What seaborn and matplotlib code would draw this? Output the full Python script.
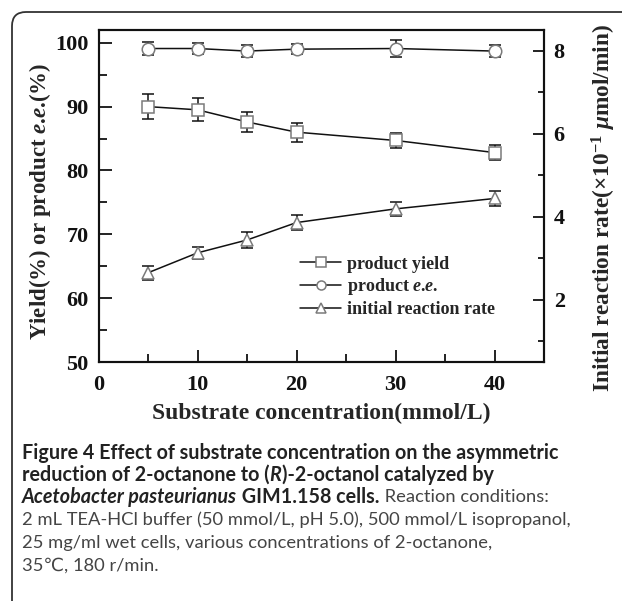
import numpy as np
import pandas as pd
import seaborn as sns
import matplotlib.pyplot as plt
from matplotlib.patches import PathPatch
from matplotlib.path import Path
from matplotlib.lines import Line2D
from matplotlib.ticker import MultipleLocator
from matplotlib.transforms import IdentityTransform

# data
conc = [5, 10, 15, 20, 30, 40]
yield_pct = [90.0, 89.5, 87.6, 86.0, 84.7, 82.8]
yield_err = [2.0, 1.8, 1.6, 1.5, 1.2, 1.2]
ee_pct = [99.1, 99.1, 98.7, 99.0, 99.1, 98.7]
ee_err = [1.0, 0.8, 1.0, 0.8, 1.3, 1.0]
rate = [2.65, 3.13, 3.44, 3.86, 4.19, 4.44]
rate_err = [0.17, 0.14, 0.19, 0.18, 0.17, 0.19]
series_labels = ["product yield", "product $e$.$e$.", "initial reaction rate"]

sns.set_theme(style="ticks")
plt.rcParams["font.family"] = ["Liberation Serif", "DejaVu Serif"]
plt.rcParams["font.weight"] = "bold"
plt.rcParams["mathtext.fontset"] = "custom"
plt.rcParams["mathtext.it"] = "Liberation Serif:italic:bold"
plt.rcParams["mathtext.rm"] = "Liberation Serif:bold"
plt.rcParams["mathtext.bf"] = "Liberation Serif:bold"

W, H = 622, 601
fig = plt.figure(figsize=(W / 100, H / 100), dpi=100)
fig.patch.set_facecolor("white")

# rounded frame (left and top edges visible), pixel coords from bottom-left
r = 14
verts = [(12, -20), (12, H - 12 - r), (12, H - 12), (12 + r, H - 12), (W + 20, H - 12)]
codes = [Path.MOVETO, Path.LINETO, Path.CURVE3, Path.CURVE3, Path.LINETO]
fig.add_artist(PathPatch(Path(verts, codes), fill=False, ec="#333333", lw=1.3,
                         transform=IdentityTransform()))

ax = fig.add_axes([98.5 / W, (H - 362) / H, (544 - 98.5) / W, (362 - 30) / H])
ax2 = ax.twinx()

line_kw = dict(color="#111111", lw=1.1, markersize=8, markerfacecolor="white",
               markeredgecolor="#7a7a7a", markeredgewidth=1.1)
err_kw = dict(fmt="none", ecolor="#111111", elinewidth=1.1, capsize=4.5, capthick=1.1)

df = pd.DataFrame({"conc": conc, "yield": yield_pct, "ee": ee_pct, "rate": rate})

ax.errorbar(conc, yield_pct, yerr=yield_err, **err_kw)
ax.errorbar(conc, ee_pct, yerr=ee_err, **err_kw)
ax2.errorbar(conc, rate, yerr=rate_err, **err_kw)
sns.lineplot(data=df, x="conc", y="yield", marker="s", ax=ax, **line_kw)
sns.lineplot(data=df, x="conc", y="ee", marker="o", ax=ax, **dict(line_kw, markersize=9))
sns.lineplot(data=df, x="conc", y="rate", marker="^", ax=ax2, **dict(line_kw, markersize=9))

ax.set_xlim(0, 45)
ax.set_ylim(50, 102)
ax2.set_ylim(0.5, 8.5)
ax.xaxis.set_major_locator(MultipleLocator(10))
ax.xaxis.set_minor_locator(MultipleLocator(5))
ax.yaxis.set_major_locator(MultipleLocator(10))
ax.yaxis.set_minor_locator(MultipleLocator(5))
ax2.yaxis.set_major_locator(MultipleLocator(2))
ax2.yaxis.set_minor_locator(MultipleLocator(1))

for a in (ax, ax2):
    for s in a.spines.values():
        s.set_linewidth(1.5)
        s.set_color("#111111")
ax.tick_params(axis="both", which="both", direction="in", top=False, right=False,
               labelsize=16, width=1.3, colors="#111111")
ax.tick_params(which="major", length=9)
ax.tick_params(which="minor", length=6)
ax.tick_params(axis="y", pad=7)
ax.tick_params(axis="x", pad=9)
ax2.tick_params(axis="y", which="both", direction="in", labelsize=16, width=1.3,
                colors="#111111", pad=7)
ax2.tick_params(which="major", length=8)
ax2.tick_params(which="minor", length=4)

ax.set_xlabel("Substrate concentration(mmol/L)", fontsize=17, fontweight="bold", labelpad=6)
ax.set_ylabel("Yield(%) or product $e$.$e$.(%)", fontsize=16.5, fontweight="bold")
ax2.set_ylabel("Initial reaction rate(×10$^{-1}$ $\\mu$mol/min)", fontsize=16.8,
               fontweight="bold")
ax.yaxis.set_label_coords(-0.102, 0.485)
ax2.yaxis.set_label_coords(1.103, 0.464)

markers = ["s", "o", "^"]
handles = [Line2D([], [], marker=m, **dict(line_kw, markersize=6.5)) for m in markers]
ax.legend(handles, series_labels, loc="upper left", bbox_to_anchor=(0.452, 0.32),
          frameon=False, handlelength=2.3, handletextpad=0.3,
          labelspacing=0.2, borderpad=0, borderaxespad=0,
          prop={"family": "Liberation Serif", "weight": "bold", "size": 13})

# caption
fig.canvas.draw()
renderer = fig.canvas.get_renderer()
cap_fam = ["Lato", "DejaVu Sans"]
B = dict(family=cap_fam, weight="bold", color="#222222", fontsize=14.2)
BI = dict(family=cap_fam, weight="bold", style="italic", color="#222222", fontsize=14.2)
R = dict(family=cap_fam, weight="normal", color="#444444", fontsize=13.2)
caption = [
    [("Figure 4 Effect of substrate concentration on the asymmetric", B)],
    [("reduction of 2-octanone to (", B), ("R", BI), (")-2-octanol catalyzed by", B)],
    [("Acetobacter pasteurianus", BI), (" GIM1.158 cells.", B), (" Reaction conditions:", R)],
    [("2 mL TEA-HCl buffer (50 mmol/L, pH 5.0), 500 mmol/L isopropanol,", R)],
    [("25 mg/ml wet cells, various concentrations of 2-octanone,", R)],
    [("35℃, 180 r/min.", R)],
]
line_y = [453, 475, 497, 520, 543, 566]
for parts, ypx in zip(caption, line_y):
    x = 22
    for txt, st in parts:
        t = fig.text(x, H - ypx, txt, transform=IdentityTransform(),
                     va="center", ha="left", **st)
        x = t.get_window_extent(renderer).x1

fig.savefig("out.png", dpi=100)
